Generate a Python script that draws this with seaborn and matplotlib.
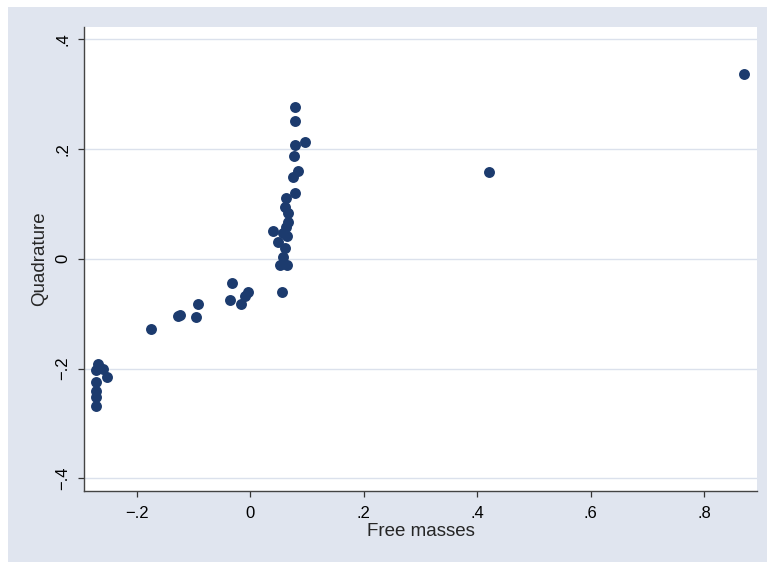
import matplotlib
matplotlib.use("Agg")
import matplotlib.pyplot as plt
import matplotlib.patches as patches
import seaborn as sns
import pandas as pd

sns.set_style("white")
plt.rcParams['font.family'] = ['Liberation Sans', 'DejaVu Sans']

# Values
free_masses = [0.8705, 0.4210, -0.1753, -0.1237, -0.1272, -0.0919, -0.0949,
               -0.0315, -0.0350, -0.0161, -0.0091, -0.0033,
               -0.2677, -0.2717, -0.2599, -0.2518, -0.2717, -0.2717, -0.2717, -0.2717,
               0.0790, 0.0785, 0.0967, 0.0796, 0.0773, 0.0838, 0.0760, 0.0796,
               0.0626, 0.0614, 0.0672, 0.0662, 0.0626, 0.0408, 0.0584, 0.0641,
               0.0496, 0.0614, 0.0584, 0.0526, 0.0644, 0.0556]
quadrature = [0.3368, 0.1582, -0.1274, -0.1030, -0.1048, -0.0818, -0.1061,
              -0.0446, -0.0756, -0.0829, -0.0678, -0.0600,
              -0.1917, -0.2026, -0.2014, -0.2159, -0.2240, -0.2404, -0.2513, -0.2677,
              0.2761, 0.2517, 0.2123, 0.2068, 0.1879, 0.1600, 0.1485, 0.1194,
              0.1102, 0.0949, 0.0840, 0.0676, 0.0585, 0.0507, 0.0465, 0.0415,
              0.0312, 0.0191, 0.0038, -0.0113, -0.0113, -0.0600]

x_ticks = [-0.2, 0, 0.2, 0.4, 0.6, 0.8]
x_tick_labels = ['\u2212.2', '0', '.2', '.4', '.6', '.8']
y_ticks = [-0.4, -0.2, 0, 0.2, 0.4]
y_tick_labels = ['\u2212.4', '\u2212.2', '0', '.2', '.4']

df = pd.DataFrame({'Free masses': free_masses, 'Quadrature': quadrature})

W, H = 767, 562
fig = plt.figure(figsize=(W / 100, H / 100), dpi=100)
fig.patch.set_facecolor('white')

# Stata-like graph region behind the plot
fig.patches.append(patches.Rectangle((8 / W, 0), 1 - 8 / W, 1 - 7 / H,
                                     transform=fig.transFigure,
                                     facecolor='#e0e5ef', edgecolor='none', zorder=-5))

ax = fig.add_axes([84 / W, 1 - 491 / H, (757 - 84) / W, (491 - 27) / H])
ax.set_zorder(2)
ax.set_facecolor('white')

sns.scatterplot(x='Free masses', y='Quadrature', data=df, ax=ax,
                color='#1c3b6e', s=62, linewidth=0, zorder=3)

ax.set_xlim(-0.2929, 0.8934)
ax.set_ylim(-0.4231, 0.4224)

ax.set_xticks(x_ticks)
ax.set_xticklabels(x_tick_labels, fontsize=12)
ax.set_yticks(y_ticks)
ax.set_yticklabels(y_tick_labels, fontsize=12, rotation=90, va='center')

ax.tick_params(axis='both', direction='out', length=4, width=0.9,
               color='#333333', labelcolor='black')
ax.tick_params(axis='x', bottom=True, pad=7)
ax.tick_params(axis='y', left=True, pad=6)

ax.grid(axis='y', color='#dbe1ec', linewidth=1)
ax.grid(axis='x', visible=False)

for side in ['top', 'right']:
    ax.spines[side].set_visible(False)
for side in ['left', 'bottom']:
    ax.spines[side].set_color('#444444')
    ax.spines[side].set_linewidth(1)

ax.set_xlabel('Free masses', fontsize=13.5, labelpad=1)
ax.set_ylabel('Quadrature', fontsize=13.5, labelpad=5)

fig.savefig('out.png', dpi=100, facecolor=fig.get_facecolor())
